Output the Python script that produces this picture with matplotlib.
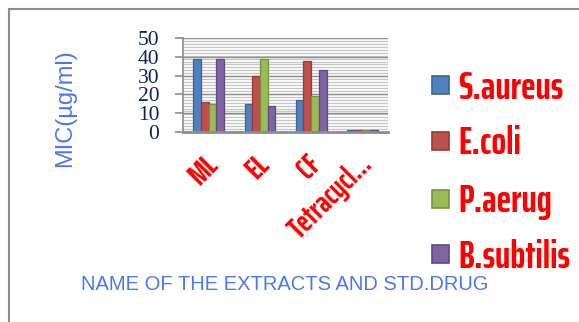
import matplotlib
matplotlib.use("Agg")
import matplotlib.pyplot as plt
import matplotlib.transforms as mtransforms
from matplotlib.patches import Rectangle
import numpy as np

# Minimum inhibitory concentration per extract / standard drug
categories = ["ML", "EL", "CF", "Tetracycl..."]
organisms = ["S.aureus", "E.coli", "P.aerug", "B.subtilis"]
s_aureus = [39, 15, 17, 1]
e_coli = [16, 30, 38, 1]
p_aerug = [15, 39, 19, 1]
b_subtilis = [39, 14, 33, 1]
y_ticks = [0, 10, 20, 30, 40, 50]

series = [s_aureus, e_coli, p_aerug, b_subtilis]
face_colors = ["#4F81BD", "#C0504D", "#9BBB59", "#8064A2"]
edge_colors = ["#3A6593", "#943B38", "#76923F", "#5F4A7C"]

CONDENSED = ["Saira ExtraCondensed", "Saira Condensed", "DejaVu Sans"]

W, H = 579, 322
fig = plt.figure(figsize=(W / 100, H / 100), dpi=100)
fig.patch.set_facecolor("white")

def fx(px):
    return px / W

def fy(py):
    return 1 - py / H

# outer chart frame
fig.add_artist(Rectangle((fx(9), fy(400)), fx(700), fy(9) - fy(400),
                         transform=fig.transFigure, fill=False,
                         edgecolor="#8C8C8C", linewidth=1.5))

left, right, top, bottom = 183, 388, 38, 132
ax = fig.add_axes([fx(left), fy(bottom), fx(right - left), fy(top) - fy(bottom)])
ax.set_facecolor("white")

# striped plot-area fill
ax.hlines(np.linspace(0, 1, 33), 0, 1, transform=ax.transAxes,
          colors="#C4C4C4", linewidth=0.9, zorder=0)
for t in y_ticks[1:]:
    ax.axhline(t, color="#8E8E8E", linewidth=1.0, zorder=0.5)

x = np.arange(len(categories))
bw = 0.15
for i, vals in enumerate(series):
    ax.bar(x + (i - 1.5) * bw, vals, width=bw, color=face_colors[i],
           edgecolor=edge_colors[i], linewidth=0.9, zorder=2)

ax.set_xlim(-0.5, len(categories) - 0.5)
ax.set_ylim(0, 50)

for s in ["top", "right"]:
    ax.spines[s].set_visible(False)
ax.spines["left"].set_color("#8C8C8C")
ax.spines["left"].set_linewidth(1.2)
ax.spines["bottom"].set_color("#8C8C8C")
ax.spines["bottom"].set_linewidth(2.0)
ax.spines["bottom"].set_zorder(3)

ax.set_yticks(y_ticks)
ax.set_yticklabels([str(v) for v in y_ticks], family="Liberation Serif",
                   fontsize=15.5, color="#0C2260")
ax.tick_params(axis="y", direction="out", length=6, width=1.2,
               color="#8C8C8C", pad=11)

ax.set_xticks(x)
ax.set_xticklabels(categories, rotation=45, ha="right", va="center",
                   rotation_mode="anchor", family=CONDENSED,
                   fontweight="bold", fontsize=22, color="#FF0000")
ax.tick_params(axis="x", length=0, pad=20)
shift = mtransforms.ScaledTranslation(5 / 100, 0, fig.dpi_scale_trans)
for lab in ax.get_xticklabels():
    lab.set_transform(lab.get_transform() + shift)

# axis titles
fig.text(fx(65), fy(108), "MIC(µg/ml)", rotation=90, ha="center", va="center",
         family="Liberation Sans", fontsize=17, color="#4A78EE")
fig.text(fx(285), fy(285), "NAME OF THE EXTRACTS AND STD.DRUG", ha="center",
         va="center", family="Liberation Sans", fontsize=14.5, color="#4A78EE")

# legend
legend_y = [85, 141, 199, 254]
for name, fc, ec, ly in zip(organisms, face_colors, edge_colors, legend_y):
    fig.add_artist(Rectangle((fx(432), fy(ly + 9)), fx(17), fy(ly - 9) - fy(ly + 9),
                             transform=fig.transFigure, facecolor=fc,
                             edgecolor=ec, linewidth=1.2))
    fig.text(fx(458), fy(ly - 1), name, ha="left", va="center_baseline",
             family=CONDENSED, fontweight="bold",
             fontsize=28, color="#FF0000")

fig.savefig("out.png", dpi=100)
